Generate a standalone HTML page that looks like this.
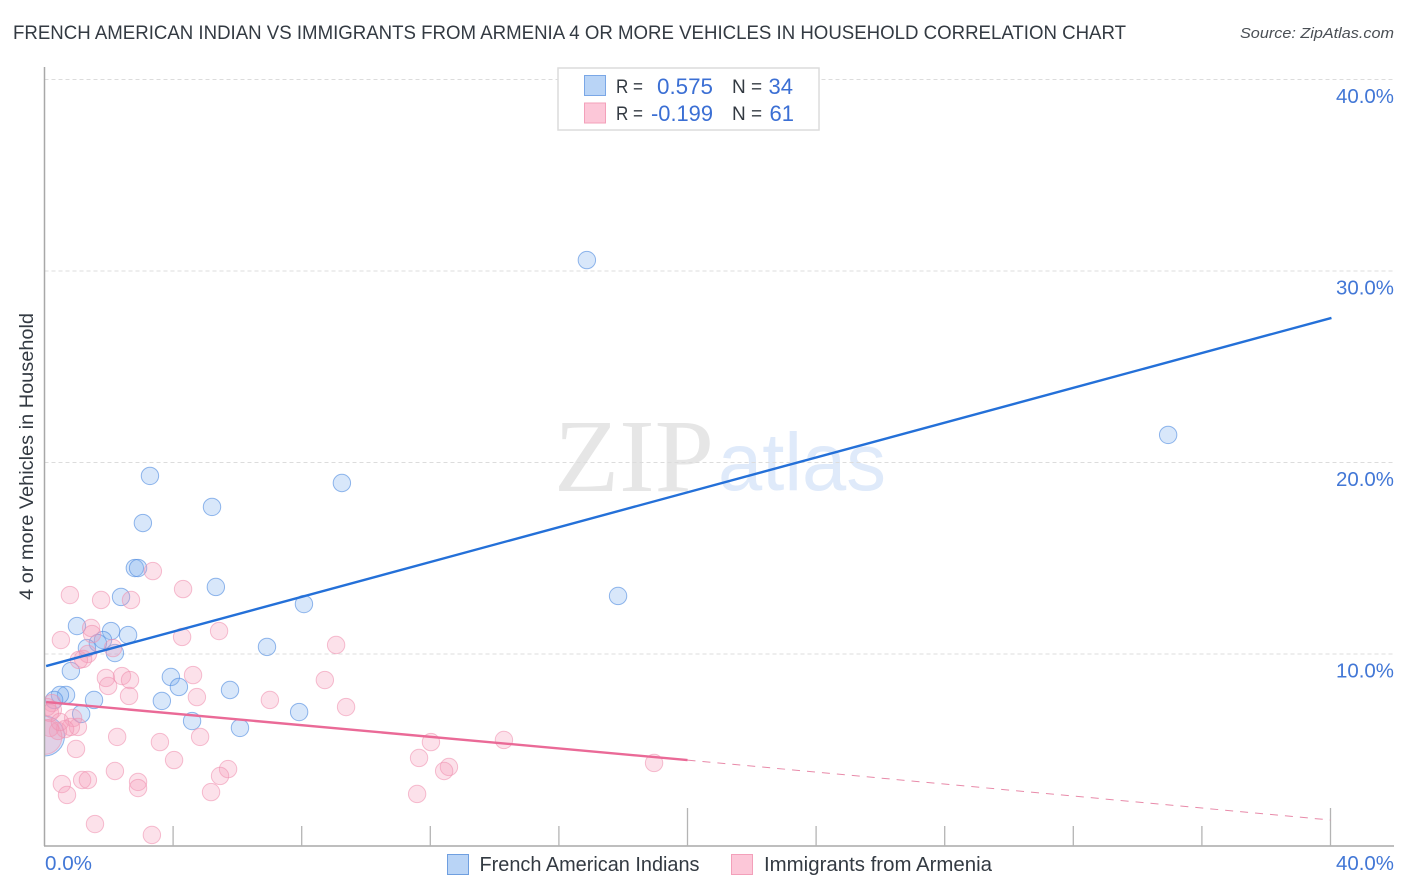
<!DOCTYPE html>
<html lang="en">
<head>
<meta charset="utf-8">
<title>French American Indian vs Immigrants from Armenia correlation chart</title>
<style>
html,body{margin:0;padding:0;background:#fff;width:1406px;height:892px;overflow:hidden}
svg{display:block;font-family:"Liberation Sans",sans-serif}
</style>
</head>
<body>
<svg id="chart" xmlns="http://www.w3.org/2000/svg" width="1406" height="892" viewBox="0 0 1406 892">
  <defs>
    <clipPath id="plot-clip"><rect x="45" y="60" width="1350" height="786"></rect></clipPath>
  </defs>
  <text x="13" y="39" font-size="19" fill="#333a42" textLength="1113" lengthAdjust="spacingAndGlyphs">FRENCH AMERICAN INDIAN VS IMMIGRANTS FROM ARMENIA 4 OR MORE VEHICLES IN HOUSEHOLD CORRELATION CHART</text>
  <text x="1394" y="38" font-size="15" font-style="italic" fill="#4a4f55" text-anchor="end" textLength="154" lengthAdjust="spacingAndGlyphs">Source: ZipAtlas.com</text>

  <g>
    <text x="554" y="491" font-family="'Liberation Serif',serif" font-size="104" fill="#e6e6e6" textLength="160" lengthAdjust="spacingAndGlyphs">ZIP</text>
    <text x="718" y="490" font-size="82" fill="#dfeafa" textLength="168" lengthAdjust="spacingAndGlyphs">atlas</text>
  </g>

  <g id="grid"></g>
  <g id="points" clip-path="url(#plot-clip)"></g>
  <rect x="0" y="60" width="44" height="790" fill="#fff"></rect>
  <g id="axes"></g>
  <g id="trends"></g>
  <g id="tick-labels"></g>

  <text transform="translate(33,456.5) rotate(-90)" font-size="19" fill="#333a42" text-anchor="middle" textLength="287" lengthAdjust="spacingAndGlyphs">4 or more Vehicles in Household</text>

  <g>
    <rect x="558" y="68" width="261" height="62" fill="#fff" stroke="#dcdcdc" stroke-width="1.5"></rect>
    <rect x="584.5" y="75.5" width="21" height="20" fill="#b9d4f6" stroke="#7aa7e6" stroke-width="1"></rect>
    <rect x="584.5" y="103" width="21" height="20" fill="#fcc7d8" stroke="#f3a0ba" stroke-width="1"></rect>
    <text x="616" y="93" font-size="19" fill="#333a42" textLength="27" lengthAdjust="spacingAndGlyphs">R =</text>
    <text x="713" y="94" font-size="22" fill="#3b6fd4" text-anchor="end" textLength="56" lengthAdjust="spacingAndGlyphs">0.575</text>
    <text x="732" y="93" font-size="19" fill="#333a42">N =</text>
    <text x="793" y="94" font-size="22" fill="#3b6fd4" text-anchor="end">34</text>
    <text x="616" y="120" font-size="19" fill="#333a42" textLength="27" lengthAdjust="spacingAndGlyphs">R =</text>
    <text x="713" y="121" font-size="22" fill="#3b6fd4" text-anchor="end" textLength="62" lengthAdjust="spacingAndGlyphs">-0.199</text>
    <text x="732" y="120" font-size="19" fill="#333a42">N =</text>
    <text x="794" y="121" font-size="22" fill="#3b6fd4" text-anchor="end">61</text>
  </g>

  <g>
    <rect x="447.5" y="854.5" width="21" height="20" fill="#b9d4f6" stroke="#6f9fe0" stroke-width="1"></rect>
    <text x="479.5" y="871" font-size="20" fill="#333a42" textLength="220" lengthAdjust="spacingAndGlyphs">French American Indians</text>
    <rect x="731.5" y="854.5" width="21" height="20" fill="#fcc7d8" stroke="#f3a0ba" stroke-width="1"></rect>
    <text x="764" y="871" font-size="20" fill="#333a42" textLength="228" lengthAdjust="spacingAndGlyphs">Immigrants from Armenia</text>
  </g>
</svg>

<script>
// Data (percent units)
const yTicks = [10, 20, 30, 40];
const yTickLabels = ['10.0%', '20.0%', '30.0%', '40.0%'];
const xTicks = [4, 8, 12, 16, 20, 24, 28, 32, 36, 40];
const xMajorTicks = [20, 40];
const xEndLabels = ['0.0%', '40.0%'];

const blueX = [16.87,34.95,3.28,9.25,5.21,3.06,2.81,2.91,5.33,17.84,2.38,8.07,1.01,2.07,2.60,6.92,1.82,1.66,1.32,2.19,0.82,3.93,4.18,5.77,3.65,1.54,0.67,0.48,0.30,7.92,1.14,4.59,6.08,0];
const blueY = [30.57,21.44,19.30,18.93,17.68,16.84,14.49,14.49,13.50,13.03,12.98,12.61,11.46,11.20,10.99,10.37,10.73,10.57,10.31,10.05,9.11,8.80,8.28,8.12,7.55,7.60,7.86,7.86,7.60,6.97,6.87,6.50,6.14,5.72];
const blueSize = [1,1,1,1,1,1,1,1,1,1,1,1,1,1,1,1,1,1,1,1,1,1,1,1,1,1,1,1,1,1,1,1,1,2.3];

const pinkX = [3.37,4.31,0.79,1.76,2.69,1.45,1.48,0.51,4.28,5.43,9.07,2.13,1.35,1.20,1.07,4.62,8.72,1.91,2.41,2.66,1.98,2.63,4.74,7.01,9.38,0.23,0.26,0.17,0.89,1.04,0.82,0.64,0.42,0.17,0,2.26,4.84,3.59,0.98,4.03,2.19,5.71,5.46,5.18,0.54,1.17,1.35,2.91,2.91,0.70,1.57,3.34,12.02,14.29,11.65,12.58,12.43,11.59,18.96,0.08,0.48];
const pinkY = [14.33,13.39,13.08,12.82,12.82,11.36,11.04,10.73,10.89,11.20,10.47,10.31,10.00,9.74,9.69,8.90,8.64,8.75,8.85,8.64,8.33,7.81,7.75,7.60,7.23,7.44,7.08,6.92,6.66,6.19,6.19,6.08,5.98,6.14,5.67,5.67,5.67,5.40,5.04,4.46,3.89,3.99,3.63,2.79,3.21,3.42,3.42,3.32,3.00,2.64,1.12,0.55,5.40,5.51,4.57,4.10,3.89,2.69,4.31,7.23,6.45];
const pinkSize = [1,1,1,1,1,1,1,1,1,1,1,1,1,1,1,1,1,1,1,1,1,1,1,1,1,1,1,1,1,1,1,1,1,1,2,1,1,1,1,1,1,1,1,1,1,1,1,1,1,1,1,1,1,1,1,1,1,1,1,1,1];

const blueTrendX = [0.05, 40.03];
const blueTrendY = [9.37, 27.55];
const pinkSolidX = [0.05, 20];
const pinkSolidY = [7.49, 4.46];
const pinkDashX = [20, 40];
const pinkDashY = [4.46, 1.33];

// Axis functions
const xScale = v => 44.5 + v * 32.15;
const yScale = v => 845.5 - v * 19.15;
const NS = 'http://www.w3.org/2000/svg';
const gridG = document.getElementById('grid');
const axesG = document.getElementById('axes');
const pointsG = document.getElementById('points');
const trendsG = document.getElementById('trends');
const labelsG = document.getElementById('tick-labels');

function mk(tag, attrs, parent) {
  const el = document.createElementNS(NS, tag);
  for (const k in attrs) el.setAttribute(k, attrs[k]);
  parent.appendChild(el);
  return el;
}

yTicks.forEach((t, i) => {
  const line = mk('line', {x1: 44.5, x2: 1394, y1: yScale(t), y2: yScale(t), stroke: '#dcdcdc', 'stroke-width': 1, 'stroke-dasharray': '4 3'}, gridG);
  
  
  const label = mk('text', {x: 1394, y: yScale(t) + 23.5, 'font-size': 20, fill: '#4277d6', 'text-anchor': 'end', textLength: 58, lengthAdjust: 'spacingAndGlyphs'}, labelsG);
  label.textContent = yTickLabels[i];
  
  
});

const yAxis = mk('line', {x1: 44.5, x2: 44.5, y1: 67, y2: 846, stroke: '#a8a8a8', 'stroke-width': 1.5}, axesG);


const xAxis = mk('line', {x1: 44, x2: 1394, y1: 846, y2: 846, stroke: '#a8a8a8', 'stroke-width': 1.5}, axesG);



xTicks.forEach(t => {
  const major = xMajorTicks.includes(t);
  const tick = mk('line', {x1: xScale(t), x2: xScale(t), y1: major ? 808 : 826, y2: 846, stroke: '#b4b4b4', 'stroke-width': 1.3}, axesG);
  
  
});

const xLabelLeft = mk('text', {x: 45, y: 870, 'font-size': 20, fill: '#4277d6', textLength: 47, lengthAdjust: 'spacingAndGlyphs'}, labelsG);
xLabelLeft.textContent = xEndLabels[0];


const xLabelRight = mk('text', {x: 1394, y: 870, 'font-size': 20, fill: '#4277d6', 'text-anchor': 'end', textLength: 58, lengthAdjust: 'spacingAndGlyphs'}, labelsG);
xLabelRight.textContent = xEndLabels[1];



blueX.forEach((v, i) => {
  const c = mk('circle', {cx: xScale(v), cy: yScale(blueY[i]), r: 8.7 * blueSize[i], fill: 'rgba(125,175,238,0.30)', stroke: 'rgba(80,140,225,0.62)', 'stroke-width': 1}, pointsG);
  
  
});
pinkX.forEach((v, i) => {
  const c = mk('circle', {cx: xScale(v), cy: yScale(pinkY[i]), r: 8.7 * pinkSize[i], fill: 'rgba(245,155,185,0.30)', stroke: 'rgba(240,145,175,0.58)', 'stroke-width': 1}, pointsG);
  
  
});

const blueTrend = mk('line', {x1: xScale(blueTrendX[0]), y1: yScale(blueTrendY[0]), x2: xScale(blueTrendX[1]), y2: yScale(blueTrendY[1]), stroke: '#2470d8', 'stroke-width': 2.4}, trendsG);


const pinkSolid = mk('line', {x1: xScale(pinkSolidX[0]), y1: yScale(pinkSolidY[0]), x2: xScale(pinkSolidX[1]), y2: yScale(pinkSolidY[1]), stroke: '#ea6a97', 'stroke-width': 2.4}, trendsG);


const pinkDash = mk('line', {x1: xScale(pinkDashX[0]), y1: yScale(pinkDashY[0]), x2: xScale(pinkDashX[1]), y2: yScale(pinkDashY[1]), stroke: '#e88aa9', 'stroke-width': 1, 'stroke-dasharray': '8 7'}, trendsG);


</script>
</body>
</html>
